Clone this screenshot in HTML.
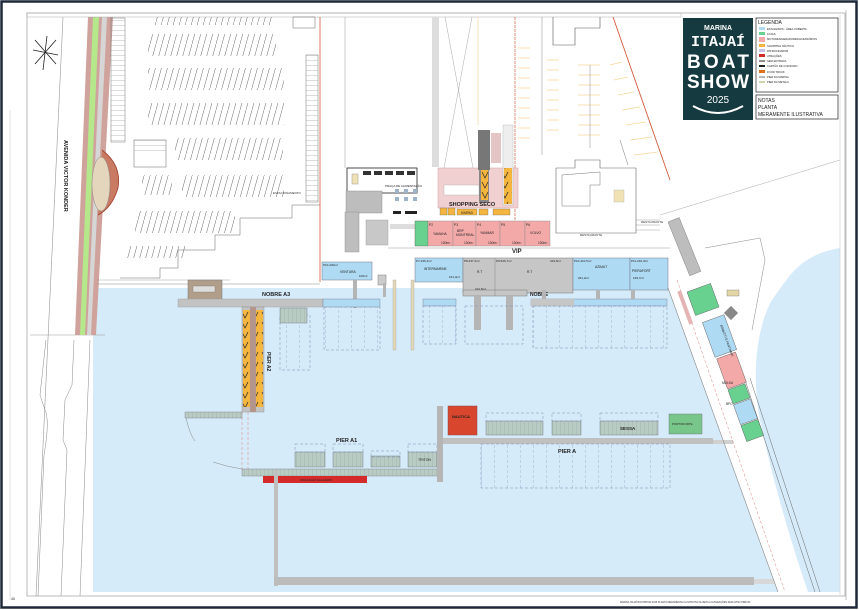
<!DOCTYPE html>
<html><head><meta charset="utf-8">
<style>
html,body{margin:0;padding:0;background:#fff;}
svg{display:block;font-family:"Liberation Sans",sans-serif;}
</style></head>
<body>
<svg width="859" height="610" viewBox="0 0 859 610" xmlns="http://www.w3.org/2000/svg">
<defs>
<pattern id="park" width="6" height="22" patternUnits="userSpaceOnUse">
<line x1="0" y1="22" x2="6" y2="0" stroke="#555" stroke-width="0.5"/>
</pattern>
<pattern id="stall" width="12" height="5" patternUnits="userSpaceOnUse">
<line x1="0" y1="0" x2="12" y2="0" stroke="#777" stroke-width="0.5"/>
</pattern>
<pattern id="berth" width="13" height="60" patternUnits="userSpaceOnUse">
<line x1="0" y1="0" x2="0" y2="60" stroke="#7d8fb8" stroke-width="0.6" stroke-dasharray="3,2"/>
</pattern>
<pattern id="boat" width="4" height="10" patternUnits="userSpaceOnUse">
<rect width="4" height="10" fill="#b9ccc4"/><line x1="0" y1="0" x2="0" y2="10" stroke="#8aa09a" stroke-width="0.5"/>
</pattern>
<pattern id="yel" width="10" height="10" patternUnits="userSpaceOnUse">
<rect width="10" height="10" fill="#f4b63f"/><path d="M2 2 L5 8 L8 2" stroke="#222" fill="none" stroke-width="0.7"/>
</pattern>
</defs>

<rect x="0" y="0" width="859" height="610" fill="#fff"/>
<rect x="1.5" y="1.5" width="855" height="606" fill="none" stroke="#1e2838" stroke-width="2.5"/>
<rect x="27" y="13" width="818" height="583" fill="none" stroke="#aaa" stroke-width="0.8"/>
<line x1="10" y1="110" x2="10" y2="600" stroke="#ccc" stroke-width="0.6"/>

<!-- water -->
<polygon points="93,288 668,288 778,592 93,592" fill="#d6ebf9"/>
<path d="M840,248 C800,255 790,275 772,300 C755,330 752,380 760,420 C770,470 790,540 808,592 L840,592 Z" fill="#d6ebf9"/>

<!-- left avenue -->
<line x1="63" y1="17" x2="36" y2="596" stroke="#999" stroke-width="0.6"/>
<line x1="27" y1="595" x2="27" y2="400" stroke="#bbb" stroke-width="0.6"/>
<path d="M46,340 L40,395 L45,410 Q50,420 44,455 L38,596" fill="none" stroke="#888" stroke-width="0.5"/>
<path d="M74,340 L72,385 L65,400 L63,440 L67,450 L61,596" fill="none" stroke="#888" stroke-width="0.5"/>
<path d="M90,340 L80,596" fill="none" stroke="#888" stroke-width="0.5"/>
<line x1="30" y1="335" x2="105" y2="335" stroke="#999" stroke-width="0.6"/>
<text transform="translate(64,140) rotate(90)" font-size="5.5" font-weight="bold" fill="#222">AVENIDA VICTOR KONDER</text>
<g stroke="#222" stroke-width="0.8">
<line x1="35" y1="40" x2="56" y2="64"/><line x1="56" y1="40" x2="35" y2="64"/>
<line x1="47" y1="36" x2="43" y2="70"/><line x1="33" y1="50" x2="58" y2="55"/>
</g>
<!-- road strip -->
<polygon points="88,17 113,17 96,335 75,335" fill="#cfa39b"/>
<polygon points="93,17 99,17 85,335 80,335" fill="#b5e88a"/>
<polygon points="102,17 107,17 91,335 87,335" fill="#d6d6d6"/>
<path d="M102,150 Q122,165 118,188 Q112,208 98,215" fill="#c97a62" stroke="#a04030" stroke-width="0.8"/>
<ellipse cx="101" cy="184" rx="9" ry="27" fill="#e3d6bd" stroke="#888" stroke-width="0.5"/>
<rect x="111" y="18" width="14" height="124" fill="url(#stall)" stroke="#777" stroke-width="0.5"/>
<rect x="27" y="13" width="654" height="4" fill="none" stroke="#aaa" stroke-width="0.5"/>
<path d="M320,205 L292,205 L292,218 L240,218 L240,235 L215,235 L215,250 L178,250 L178,268 L160,268 L160,278 L120,278" fill="none" stroke="#666" stroke-width="0.5"/>
<line x1="97" y1="284" x2="320" y2="284" stroke="#888" stroke-width="0.6"/>
<line x1="97" y1="280" x2="230" y2="280" stroke="#888" stroke-width="0.4"/>
<g opacity="0.9">
<rect x="155" y="17" width="120" height="8" fill="url(#park)"/>
<rect x="148" y="34" width="128" height="22" fill="url(#park)"/>
<rect x="148" y="68" width="136" height="22" fill="url(#park)"/>
<rect x="148" y="103" width="136" height="22" fill="url(#park)"/>
<rect x="175" y="138" width="108" height="22" fill="url(#park)"/>
<rect x="142" y="175" width="30" height="20" fill="url(#park)"/>
<rect x="182" y="175" width="102" height="22" fill="url(#park)"/>
<rect x="135" y="211" width="100" height="22" fill="url(#park)"/>
<rect x="127" y="246" width="60" height="12" fill="url(#park)"/>
</g>
<rect x="134" y="140" width="32" height="27" fill="none" stroke="#666" stroke-width="0.5"/>
<rect x="134" y="140" width="32" height="12" fill="url(#stall)"/>
<polygon points="293,17 315,17 315,28 293,28" fill="none" stroke="#666" stroke-width="0.5"/>
<rect x="306" y="55" width="12" height="147" fill="url(#stall)" stroke="#777" stroke-width="0.5"/>
<text x="273" y="194" font-size="3" fill="#333">ESTACIONAMENTO</text>
<line x1="320" y1="17" x2="320" y2="282" stroke="#d45a3a" stroke-width="0.8"/>

<line x1="345" y1="17" x2="345" y2="168" stroke="#aaa" stroke-width="0.6"/>
<rect x="432" y="17" width="7" height="150" fill="#ddd"/>
<line x1="445" y1="17" x2="473" y2="168" stroke="#aaa" stroke-width="0.5"/>
<line x1="472" y1="17" x2="444" y2="168" stroke="#aaa" stroke-width="0.5"/>
<line x1="478" y1="17" x2="478" y2="125" stroke="#f3d9a8" stroke-width="0.8"/>
<line x1="515" y1="17" x2="515" y2="240" stroke="#d45a3a" stroke-width="0.7" stroke-dasharray="3,1"/>
<g stroke="#f8d79a" stroke-width="0.8">
<line x1="518" y1="48" x2="530" y2="48"/><line x1="518" y1="58" x2="530" y2="58"/><line x1="518" y1="68" x2="530" y2="68"/><line x1="518" y1="78" x2="530" y2="78"/><line x1="518" y1="88" x2="530" y2="88"/><line x1="518" y1="98" x2="530" y2="98"/><line x1="518" y1="108" x2="530" y2="108"/><line x1="518" y1="118" x2="530" y2="118"/><line x1="518" y1="128" x2="530" y2="128"/><line x1="518" y1="138" x2="530" y2="138"/>
<line x1="547" y1="60" x2="559" y2="60"/><line x1="547" y1="70" x2="559" y2="70"/><line x1="547" y1="80" x2="559" y2="80"/><line x1="547" y1="90" x2="559" y2="90"/><line x1="547" y1="100" x2="559" y2="100"/><line x1="547" y1="110" x2="559" y2="110"/><line x1="547" y1="120" x2="559" y2="120"/><line x1="547" y1="130" x2="559" y2="130"/>
<line x1="578" y1="65" x2="600" y2="65"/><line x1="578" y1="75" x2="600" y2="75"/><line x1="578" y1="85" x2="600" y2="85"/><line x1="578" y1="95" x2="600" y2="95"/><line x1="578" y1="105" x2="600" y2="105"/><line x1="578" y1="115" x2="600" y2="115"/><line x1="578" y1="125" x2="600" y2="125"/><line x1="578" y1="135" x2="600" y2="135"/>
<line x1="610" y1="65" x2="622" y2="62"/><line x1="614" y1="80" x2="628" y2="77"/><line x1="618" y1="95" x2="634" y2="92"/><line x1="622" y1="110" x2="640" y2="107"/><line x1="626" y1="125" x2="646" y2="122"/><line x1="630" y1="140" x2="652" y2="137"/><line x1="634" y1="155" x2="658" y2="152"/>
</g>
<line x1="542" y1="17" x2="542" y2="155" stroke="#888" stroke-width="0.5"/>
<line x1="590" y1="65" x2="590" y2="148" stroke="#888" stroke-width="0.5"/>
<path d="M553,17 L553,45 L575,45 L575,28 L600,28 L600,17" fill="none" stroke="#555" stroke-width="0.6"/>
<line x1="613" y1="17" x2="670" y2="180" stroke="#d45a3a" stroke-width="0.9"/>
<line x1="620" y1="140" x2="628" y2="165" stroke="#777" stroke-width="0.5"/>

<rect x="347" y="168" width="70" height="25" fill="#fff" stroke="#222" stroke-width="0.8"/>
<g fill="#333"><rect x="363" y="171" width="8" height="4"/><rect x="374" y="171" width="8" height="4"/><rect x="385" y="171" width="8" height="4"/><rect x="396" y="171" width="8" height="4"/><rect x="407" y="171" width="8" height="4"/></g>
<rect x="352" y="174" width="6" height="10" fill="#f1e2b5" stroke="#888" stroke-width="0.4"/>
<text x="385" y="187" font-size="3" fill="#222">PRAÇA DE ALIMENTAÇÃO</text>
<g fill="#9cb3c8"><rect x="395" y="189" width="4" height="4"/><rect x="404" y="189" width="4" height="4"/><rect x="413" y="189" width="4" height="4"/><rect x="395" y="197" width="4" height="4"/><rect x="404" y="197" width="4" height="4"/><rect x="413" y="197" width="4" height="4"/></g>
<g fill="#222"><rect x="393" y="211" width="8" height="3"/><rect x="405" y="211" width="12" height="3"/></g>
<rect x="346" y="191" width="36" height="22" fill="#bdbdbd" stroke="#888" stroke-width="0.4"/>
<rect x="345" y="212" width="14" height="40" fill="#bdbdbd" stroke="#888" stroke-width="0.4"/>
<rect x="366" y="220" width="22" height="25" fill="#c8c8c8" stroke="#999" stroke-width="0.4"/>
<rect x="390" y="224" width="25" height="5" fill="#ddd"/>
<line x1="388" y1="248" x2="670" y2="248" stroke="#999" stroke-width="0.6"/>
<text x="512" y="253" font-size="6" font-weight="bold" fill="#222">VIP</text>

<rect x="438" y="168" width="80" height="40" fill="#f0d0d0" stroke="#d0a0a0" stroke-width="0.5"/>
<rect x="444" y="185" width="35" height="10" fill="#fff" stroke="#999" stroke-width="0.3"/>
<rect x="479" y="153" width="10" height="50" fill="#888"/>
<rect x="481" y="168" width="7" height="32" fill="url(#yel)"/>
<rect x="503" y="125" width="10" height="80" fill="#eee" stroke="#999" stroke-width="0.3"/>
<rect x="504" y="168" width="8" height="36" fill="url(#yel)"/>
<rect x="491" y="133" width="10" height="30" fill="#e4c4c4"/>
<rect x="478" y="130" width="12" height="40" fill="#777"/>
<text x="449" y="206" font-size="5.5" font-weight="bold" fill="#222">SHOPPING SECO</text>
<g fill="#f4b63f" stroke="#555" stroke-width="0.3"><rect x="440" y="208" width="7" height="7"/><rect x="448" y="208" width="7" height="7"/><rect x="457" y="209" width="20" height="6"/><rect x="479" y="209" width="9" height="6"/><rect x="493" y="209" width="17" height="6"/></g>
<text x="461" y="214" font-size="3.2" fill="#222">KIMPAD</text>

<rect x="415" y="221" width="13" height="25" fill="#69d18f" stroke="#555" stroke-width="0.4"/>
<g stroke="#888" stroke-width="0.4" fill="#f4a9a9">
<rect x="428" y="221" width="25" height="25"/><rect x="453" y="221" width="23" height="25"/><rect x="476" y="221" width="24" height="25"/><rect x="500" y="221" width="25" height="25"/><rect x="525" y="221" width="25" height="25"/>
</g>
<g font-size="3.3" fill="#222">
<text x="429" y="226">P2</text><text x="454" y="226">P3</text><text x="477" y="226">P4</text><text x="501" y="226">P5</text><text x="526" y="226">P6</text>
<text x="433" y="235">YAMAHA</text><text x="457" y="232">BRP</text><text x="456" y="236">MONTREAL</text><text x="480" y="234">YANMAR</text><text x="530" y="234">VOLVO</text>
<text x="441" y="244">100m²</text><text x="464" y="244">100m²</text><text x="488" y="244">100m²</text><text x="512" y="244">100m²</text><text x="538" y="244">100m²</text>
</g>

<path d="M556,168 L556,233 L636,233 L636,168 L600,168 L600,160 L575,160 L575,168 Z" fill="#fff" stroke="#666" stroke-width="0.6"/>
<path d="M562,175 L562,206 L590,206 L590,185 L600,185 L600,172 Z" fill="none" stroke="#777" stroke-width="0.5"/>
<text x="580" y="236" font-size="3" fill="#333">RESTAURANTE</text>
<rect x="614" y="190" width="10" height="12" fill="#f1e2b5" stroke="#999" stroke-width="0.3"/>
<text x="641" y="223" font-size="3" fill="#333">RESTAURANTE</text>
<path d="M636,220 L660,220 M636,225 L660,225 M636,230 L660,230" stroke="#888" stroke-width="0.4"/>
<line x1="660" y1="215" x2="840" y2="160" stroke="#aaa" stroke-width="0.5"/>

<rect x="322" y="262" width="50" height="18" fill="#aedaf3" stroke="#778" stroke-width="0.5"/>
<text x="323" y="266" font-size="3" fill="#222">P10-230m²</text>
<text x="340" y="273" font-size="3.3" fill="#222">VENTURA</text>
<text x="359" y="277" font-size="3" fill="#222">100m²</text>
<rect x="378" y="275" width="8" height="10" fill="#ccc" stroke="#666" stroke-width="0.4"/>
<rect x="415" y="258" width="48" height="24" fill="#aedaf3" stroke="#778" stroke-width="0.5"/>
<text x="416" y="262" font-size="3" fill="#222">P7-236,4m²</text>
<text x="424" y="270" font-size="3.3" fill="#222">INTERMARINE</text>
<text x="449" y="278" font-size="3" fill="#222">161,4m²</text>
<rect x="463" y="258" width="110" height="35" fill="#c6c6c6" stroke="#777" stroke-width="0.5"/>
<rect x="463" y="290" width="64" height="6" fill="#c6c6c6" stroke="#777" stroke-width="0.5"/>
<line x1="495" y1="258" x2="495" y2="296" stroke="#777" stroke-width="0.4"/>
<text x="464" y="262" font-size="3" fill="#222">P8-237,4m²</text>
<text x="496" y="262" font-size="3" fill="#222">P9-526,7m²</text>
<text x="477" y="273" font-size="3.3" fill="#222">R.T</text><text x="527" y="273" font-size="3.3" fill="#222">R.T</text>
<text x="475" y="290" font-size="3" fill="#222">212,5m²</text><text x="550" y="262" font-size="3" fill="#222">419,5m²</text>
<rect x="573" y="258" width="57" height="32" fill="#aedaf3" stroke="#778" stroke-width="0.5"/>
<rect x="630" y="258" width="38" height="32" fill="#aedaf3" stroke="#778" stroke-width="0.5"/>
<text x="574" y="262" font-size="3" fill="#222">P10-410,5m²</text><text x="595" y="268" font-size="3.3" fill="#222">AZIMUT</text>
<text x="578" y="279" font-size="3" fill="#222">261,2m²</text>
<text x="631" y="262" font-size="3" fill="#222">P11-232,3m²</text><text x="632" y="272" font-size="3.3" fill="#222">PIERAFORT</text><text x="633" y="279" font-size="3" fill="#222">169,7m²</text>
<text x="530" y="296" font-size="5" font-weight="bold" fill="#222">NOBRE</text>

<rect x="353" y="280" width="4" height="28" fill="#b5b5b5"/>
<rect x="383" y="283" width="3" height="14" fill="#b5b5b5"/>
<rect x="393" y="280" width="3" height="70" fill="#e2d7b6" stroke="#999" stroke-width="0.3"/>
<rect x="411" y="280" width="3" height="70" fill="#e2d7b6" stroke="#999" stroke-width="0.3"/>
<rect x="423" y="299" width="33" height="7" fill="#aedaf3" stroke="#778" stroke-width="0.4"/>
<rect x="474" y="296" width="7" height="34" fill="#b5b5b5"/>
<rect x="506" y="296" width="7" height="34" fill="#b5b5b5"/>
<rect x="531" y="299" width="136" height="7" fill="#aedaf3" stroke="#778" stroke-width="0.4"/>
<rect x="531" y="299" width="43" height="7" fill="#c6c6c6"/>
<rect x="542" y="290" width="4" height="9" fill="#b5b5b5"/><rect x="596" y="290" width="4" height="9" fill="#b5b5b5"/><rect x="631" y="290" width="4" height="9" fill="#b5b5b5"/>
<rect x="324" y="307" width="56" height="43" fill="url(#berth)" stroke="#7d8fb8" stroke-width="0.5" stroke-dasharray="3,2"/>
<rect x="423" y="306" width="33" height="38" fill="url(#berth)" stroke="#7d8fb8" stroke-width="0.5" stroke-dasharray="3,2"/>
<rect x="465" y="306" width="58" height="38" fill="none" stroke="#7d8fb8" stroke-width="0.5" stroke-dasharray="3,2"/>
<rect x="533" y="306" width="134" height="42" fill="url(#berth)" stroke="#7d8fb8" stroke-width="0.5" stroke-dasharray="3,2"/>
<rect x="280" y="315" width="30" height="55" fill="url(#berth)" stroke="#7d8fb8" stroke-width="0.5" stroke-dasharray="3,2"/>

<rect x="188" y="280" width="34" height="20" fill="#b19e8a" stroke="#777" stroke-width="0.5"/>
<rect x="193" y="286" width="22" height="6" fill="#ddd" stroke="#666" stroke-width="0.3"/>
<rect x="178" y="299" width="145" height="8" fill="#c3c3c3" stroke="#999" stroke-width="0.4"/>
<rect x="323" y="299" width="57" height="8" fill="#aedaf3" stroke="#778" stroke-width="0.4"/>
<text x="262" y="296" font-size="5.5" font-weight="bold" fill="#222">NOBRE A3</text>
<rect x="280" y="308" width="27" height="15" fill="url(#boat)" stroke="#667" stroke-width="0.4"/>
<rect x="242" y="307" width="22" height="105" fill="#c3c3c3" stroke="#888" stroke-width="0.4"/>
<rect x="243" y="310" width="7" height="97" fill="url(#yel)"/>
<rect x="256" y="310" width="7" height="97" fill="url(#yel)"/>
<rect x="250" y="307" width="6" height="105" fill="#b4958b"/>
<text transform="translate(267,352) rotate(90)" font-size="5" font-weight="bold" fill="#222">PIER A2</text>
<rect x="185" y="412" width="57" height="6" fill="url(#boat)" stroke="#778" stroke-width="0.4"/>
<path d="M186,418 Q190,435 195,441" fill="none" stroke="#888" stroke-width="0.5"/>
<path d="M213,462 Q228,467 242,469" fill="none" stroke="#888" stroke-width="0.5"/>
<line x1="242" y1="412" x2="242" y2="469" stroke="#e08080" stroke-width="0.5" stroke-dasharray="3,2"/>
<line x1="248" y1="412" x2="248" y2="469" stroke="#e08080" stroke-width="0.5" stroke-dasharray="3,2"/>
<rect x="242" y="469" width="197" height="7" fill="url(#boat)" stroke="#778" stroke-width="0.4"/>
<rect x="263" y="476" width="104" height="7" fill="#d42a2a"/>
<text x="300" y="481" font-size="2.6" fill="#222">ATRACAÇÃO SALGUEIRO</text>
<text x="336" y="442" font-size="5.5" font-weight="bold" fill="#222">PIER A1</text>
<g stroke="#667" stroke-width="0.4">
<rect x="295" y="452" width="30" height="15" fill="url(#boat)"/><rect x="333" y="452" width="30" height="15" fill="url(#boat)"/>
<rect x="371" y="456" width="29" height="11" fill="url(#boat)"/><rect x="408" y="452" width="29" height="15" fill="url(#boat)"/>
</g>
<g fill="none" stroke="#7d8fb8" stroke-width="0.5" stroke-dasharray="3,2"><rect x="295" y="444" width="30" height="8"/><rect x="333" y="444" width="30" height="8"/><rect x="371" y="451" width="29" height="6"/><rect x="408" y="444" width="29" height="8"/></g>
<text x="418" y="461" font-size="3.5" fill="#222">TRITON</text>
<rect x="437" y="406" width="6" height="76" fill="#b5b5b5"/>
<rect x="443" y="438" width="270" height="6" fill="#c0c0c0"/>
<rect x="713" y="440" width="20" height="4" fill="#d0d0d0"/>
<text x="558" y="453" font-size="5.5" font-weight="bold" fill="#222">PIER A</text>
<rect x="481" y="444" width="189" height="44" fill="url(#berth)" stroke="#7d8fb8" stroke-width="0.5" stroke-dasharray="3,2"/>
<rect x="448" y="406" width="29" height="29" fill="#d9462e" stroke="#844" stroke-width="0.5"/>
<text x="452" y="418" font-size="4" font-weight="bold" fill="#222">NAUTICA</text>
<g stroke="#667" stroke-width="0.4">
<rect x="486" y="421" width="57" height="14" fill="url(#boat)"/><rect x="552" y="421" width="29" height="14" fill="url(#boat)"/>
<rect x="600" y="421" width="58" height="14" fill="url(#boat)"/>
<rect x="669" y="414" width="33" height="20" fill="#79c68a"/>
</g>
<g fill="none" stroke="#7d8fb8" stroke-width="0.5" stroke-dasharray="3,2"><rect x="486" y="413" width="57" height="8"/><rect x="552" y="413" width="29" height="8"/><rect x="600" y="413" width="58" height="8"/></g>
<text x="620" y="430" font-size="4.5" font-weight="bold" fill="#222">SESSA</text>
<text x="672" y="425" font-size="3" fill="#222">PORTOFORTE</text>
<rect x="274" y="470" width="4" height="116" fill="#c0c0c0"/>
<rect x="274" y="577" width="480" height="8" fill="#bcbcbc"/>
<rect x="754" y="579" width="20" height="5" fill="#d8d8d8"/>

<line x1="668" y1="288" x2="778" y2="592" stroke="#888" stroke-width="0.6"/>
<line x1="677" y1="280" x2="785" y2="592" stroke="#e08080" stroke-width="0.5" stroke-dasharray="3,2"/>
<line x1="745" y1="380" x2="815" y2="592" stroke="#666" stroke-width="0.5"/>
<line x1="750" y1="378" x2="820" y2="592" stroke="#666" stroke-width="0.5"/>
<path d="M705,248 L760,238 L765,260 L752,330" fill="none" stroke="#888" stroke-width="0.5"/>
<g transform="translate(668,222) rotate(-22)">
<rect x="0" y="0" width="12" height="58" fill="#bdbdbd" stroke="#777" stroke-width="0.4"/>
</g>
<g transform="translate(687,292) rotate(-20)" stroke="#555" stroke-width="0.4">
<rect x="0" y="0" width="25" height="25" fill="#69d18f"/>
<rect x="4" y="34" width="23" height="37" fill="#aedaf3"/>
<rect x="5" y="73" width="20" height="32" fill="#f4a9a9"/>
<rect x="5" y="106" width="18" height="15" fill="#69d18f"/>
<rect x="5" y="122" width="18" height="21" fill="#aedaf3"/>
<rect x="5" y="144" width="18" height="17" fill="#69d18f"/>
</g>
<rect x="683" y="290" width="4" height="35" fill="#e4b4b4" transform="rotate(-20 685 307)"/>
<text transform="translate(720,325) rotate(70)" font-size="3.2" fill="#222">ARMATTI E FANTIMAR</text>
<text x="722" y="384" font-size="3.2" fill="#222">MOLKA</text>
<text x="726" y="405" font-size="3.2" fill="#222">BPC</text>
<rect x="727" y="290" width="12" height="6" fill="#e5d6a6" stroke="#777" stroke-width="0.4"/>
<rect x="726" y="308" width="10" height="10" fill="#888" transform="rotate(45 731 313)"/>

<line x1="840" y1="15" x2="840" y2="595" stroke="#ccc" stroke-width="0.6"/>
<line x1="846" y1="10" x2="846" y2="600" stroke="#999" stroke-width="0.6"/>
<text x="620" y="603" font-size="2.4" fill="#333">MARINA ITAJAÍ BOATSHOW 2025 PLANTA MERAMENTE ILUSTRATIVA SUJEITA A ALTERAÇÕES SEM AVISO PRÉVIO</text>
<text x="11" y="600" font-size="3.5" fill="#222">40</text>

<rect x="683" y="18" width="70" height="102" fill="#153a40"/>
<text x="718" y="30" font-size="7" font-weight="bold" fill="#fff" text-anchor="middle">MARINA</text>
<text x="718" y="46" font-size="15" font-weight="bold" fill="#fff" text-anchor="middle" font-family="Liberation Mono,monospace">ITAJAÍ</text>
<text x="718" y="68" font-size="19" font-weight="bold" fill="#fff" text-anchor="middle" textLength="62">BOAT</text>
<text x="718" y="88" font-size="19" font-weight="bold" fill="#fff" text-anchor="middle" textLength="62">SHOW</text>
<text x="718" y="103" font-size="10" fill="#fff" text-anchor="middle">2025</text>
<path d="M693,106 Q718,120 743,106" fill="none" stroke="#fff" stroke-width="2"/>
<rect x="756" y="18" width="82" height="74" fill="#fff" stroke="#222" stroke-width="0.7"/>
<text x="758" y="24" font-size="5" fill="#222">LEGENDA</text>
<g font-size="2.7" fill="#222">
<rect x="759" y="27" width="6" height="3" fill="#aedaf3"/><text x="767" y="30">ESTALEIROS - ÁREA COBERTA</text>
<rect x="759" y="32" width="6" height="3" fill="#69d18f"/><text x="767" y="35">LOJAS</text>
<rect x="759" y="37" width="6" height="5" fill="#f4a9a9"/><text x="767" y="40">MOTORES/GERADORES/ACESSÓRIOS</text>
<rect x="759" y="44" width="6" height="3" fill="#f4b63f"/><text x="767" y="47">SHOPPING NÁUTICO</text>
<rect x="759" y="49" width="6" height="3" fill="#c9c0e6"/><text x="767" y="52">PATROCINADOR</text>
<rect x="759" y="54" width="6" height="3" fill="#d42a2a"/><text x="767" y="57">ATRAÇÕES</text>
<line x1="759" y1="61" x2="765" y2="61" stroke="#222"/><text x="767" y="62">SEM ENTRADA</text>
<rect x="759" y="65" width="6" height="2" fill="#222"/><text x="767" y="67">CARTÃO DE CONSUMO</text>
<rect x="759" y="70" width="6" height="3" fill="#e07020"/><text x="767" y="73">FOOD TRUCK</text>
<rect x="759" y="76" width="6" height="2" fill="#bbb"/><text x="767" y="78">PIER DA MARINA</text>
<rect x="759" y="81" width="6" height="2" fill="#cdd6a8"/><text x="767" y="83">PIER DA METALU</text>
</g>
<rect x="756" y="95" width="82" height="24" fill="#fff" stroke="#222" stroke-width="0.7"/>
<g font-size="5" fill="#222"><text x="758" y="102">NOTAS</text><text x="758" y="109">PLANTA</text><text x="758" y="116">MERAMENTE ILUSTRATIVA</text></g>
</svg>
</body></html>
